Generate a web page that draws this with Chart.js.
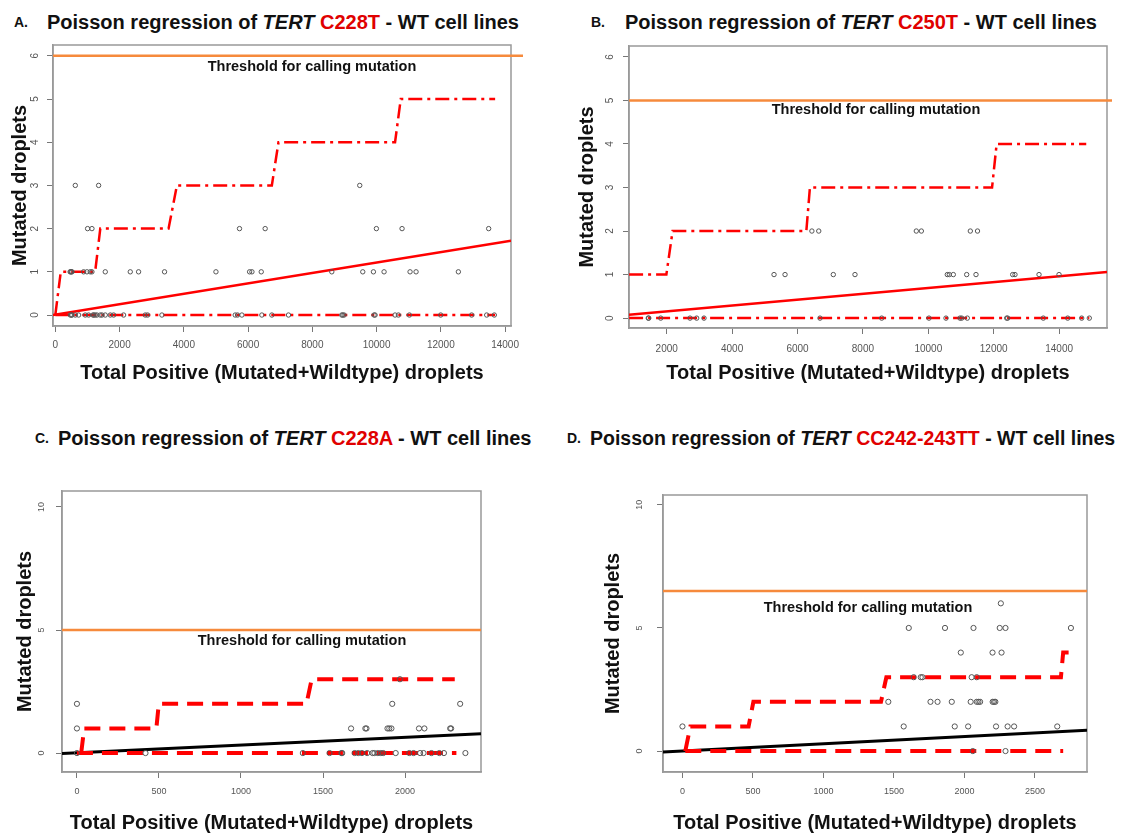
<!DOCTYPE html>
<html>
<head>
<meta charset="utf-8">
<script src="https://cdn.jsdelivr.net/npm/chart.js@4.4.1/dist/chart.umd.min.js"></script>
<style>
body { margin:0; background:#fff; width:1128px; height:834px; overflow:hidden; position:relative; font-family:'Liberation Sans', Arial, sans-serif; }
.t { position:absolute; font-weight:bold; font-size:20px; line-height:24px; color:#111; white-space:nowrap; }
.red { color:#e00000; }
.tag { position:absolute; font-weight:bold; font-size:14px; line-height:16px; color:#111; }
.thr { position:absolute; font-weight:bold; font-size:14.5px; line-height:16px; color:#111; white-space:nowrap; transform:translate(-50%,-50%); }
canvas { position:absolute; }
</style>
</head>
<body>
<div class="tag" style="left:14px;top:14px">A.</div>
<div class="t" style="left:47px;top:10px">Poisson regression of <i>TERT</i> <span class="red">C228T</span> - WT cell lines</div>
<div class="tag" style="left:591px;top:14px">B.</div>
<div class="t" style="left:625px;top:10px">Poisson regression of <i>TERT</i> <span class="red">C250T</span> - WT cell lines</div>
<div class="tag" style="left:35px;top:430px">C.</div>
<div class="t" style="left:58px;top:426px">Poisson regression of <i>TERT</i> <span class="red">C228A</span> - WT cell lines</div>
<div class="tag" style="left:567px;top:430px">D.</div>
<div class="t" style="left:590px;top:426px;font-size:19.5px">Poisson regression of <i>TERT</i> <span class="red">CC242-243TT</span> - WT cell lines</div>

<canvas id="chartA" width="540" height="370" style="left:0;top:30px"></canvas>
<canvas id="chartB" width="568" height="370" style="left:560px;top:30px"></canvas>
<canvas id="chartC" width="560" height="364" style="left:0;top:470px"></canvas>
<canvas id="chartD" width="568" height="364" style="left:560px;top:470px"></canvas>

<div class="thr" style="left:312px;top:66px">Threshold for calling mutation</div>
<div class="thr" style="left:876px;top:109px">Threshold for calling mutation</div>
<div class="thr" style="left:302px;top:640px">Threshold for calling mutation</div>
<div class="thr" style="left:868px;top:607px">Threshold for calling mutation</div>

<script>
'use strict';
// A - C228T
let aX = [622, 1348, 9476,
  1005, 1140, 5733, 6532, 9994, 10793, 13489,
  460, 480, 500, 520, 881, 985, 1088, 1140, 1555, 2333, 2592, 3400, 5000, 6047, 6120, 6410, 8606, 9570, 9902, 10233, 11042, 11229, 12546,
  467, 500, 518, 622, 726, 933, 1037, 1172, 1200, 1244, 1296, 1400, 1452, 1555, 1711, 1815, 2126, 2800, 2872, 3318, 5599, 5672, 5807, 6429, 6740, 7258, 8917, 8948, 8990, 9922, 9953, 10575, 10679, 11021, 11996, 12960, 13427, 13665];
let aY = [3, 3, 3,
  2, 2, 2, 2, 2, 2, 2,
  1, 1, 1, 1, 1, 1, 1, 1, 1, 1, 1, 1, 1, 1, 1, 1, 1, 1, 1, 1, 1, 1, 1,
  0, 0, 0, 0, 0, 0, 0, 0, 0, 0, 0, 0, 0, 0, 0, 0, 0, 0, 0, 0, 0, 0, 0, 0, 0, 0, 0, 0, 0, 0, 0, 0, 0, 0, 0, 0, 0, 0];
let aUpX = [0, 170, 1240, 1400, 3525, 3785, 6740, 6947, 10575, 10753, 13690];
let aUpY = [0, 1, 1, 2, 2, 3, 3, 4, 4, 5, 5];
let aLoX = [0, 13690];
let aLoY = [0, 0];
let aFitX = [-72, 14184];
let aFitY = [0, 1.72];
let aCutX = [-72, 16000];
let aCut = 6;
let aTicksX = [0, 2000, 4000, 6000, 8000, 10000, 12000, 14000];
let aTicksY = [0, 1, 2, 3, 4, 5, 6];

// B - C250T
let bX = [6440, 6650, 9633, 9788, 11285, 11505,
  5282, 5619, 7095, 7758, 10581, 10642, 10765, 11174, 11459, 12581, 12651, 13386, 13998,
  1437, 1450, 1817, 2713, 2917, 3141, 6688, 8575, 10021, 10541, 10969, 11021, 11193, 12398, 12428, 13517, 14263, 14691, 14924];
let bY = [2, 2, 2, 2, 2, 2,
  1, 1, 1, 1, 1, 1, 1, 1, 1, 1, 1, 1, 1,
  0, 0, 0, 0, 0, 0, 0, 0, 0, 0, 0, 0, 0, 0, 0, 0, 0, 0, 0];
let bUpX = [850, 1990, 2180, 6270, 6380, 11950, 12090, 14830];
let bUpY = [1, 1, 2, 2, 3, 3, 4, 4];
let bLoX = [850, 14924];
let bLoY = [0, 0];
let bFitX = [847, 15465];
let bFitY = [0.08, 1.06];
let bCutX = [847, 17000];
let bCut = 5;
let bTicksX = [2000, 4000, 6000, 8000, 10000, 12000, 14000];
let bTicksY = [0, 1, 2, 3, 4, 5, 6];

// C - C228A
let cX = [1969,
  0, 1922, 2336,
  0, 1671, 1758, 1765, 1893, 1904, 1917, 2085, 2118, 2275, 2281,
  0, 418, 1377, 1540, 1612, 1617, 1693, 1715, 1737, 1769, 1802, 1813, 1834, 1852, 1867, 1943, 2026, 2052, 2092, 2113, 2161, 2209, 2237, 2368];
let cY = [3,
  2, 2, 2,
  1, 1, 1, 1, 1, 1, 1, 1, 1, 1, 1,
  0, 0, 0, 0, 0, 0, 0, 0, 0, 0, 0, 0, 0, 0, 0, 0, 0, 0, 0, 0, 0, 0, 0, 0];
let cUpX = [26, 44, 484, 499, 1399, 1431, 2303];
let cUpY = [0, 1, 1, 2, 2, 3, 3];
let cLoX = [0, 2313];
let cLoY = [0, 0];
let cFitX = [-91, 2463];
let cFitY = [-0.02, 0.78];
let cCutX = [-91, 2463];
let cCut = 5;
let cTicksX = [0, 500, 1000, 1500, 2000];
let cTicksY = [0, 5, 10];

// D - CC242-243TT
let dX = [2258,
  1605, 1862, 2064, 2250, 2291, 2755,
  1974, 2199, 2263,
  1640, 1690, 1702, 2051, 2087,
  1460, 1759, 1809, 1910, 2044, 2087, 2099, 2111, 2200, 2210, 2219,
  0, 1569, 1931, 2026, 2224, 2306, 2352, 2658,
  2059, 2291];
let dY = [6,
  5, 5, 5, 5, 5, 5,
  4, 4, 4,
  3, 3, 3, 3, 3,
  2, 2, 2, 2, 2, 2, 2, 2, 2, 2, 2,
  1, 1, 1, 1, 1, 1, 1, 1,
  0, 0];
let dUpX = [20, 56, 469, 503, 1408, 1446, 2684, 2700, 2747];
let dUpY = [0, 1, 1, 2, 2, 3, 3, 4, 4];
let dLoX = [20, 2700];
let dLoY = [0, 0];
let dFitX = [-138, 2869];
let dFitY = [-0.04, 0.85];
let dCutX = [-138, 2869];
let dCut = 6.5;
let dTicksX = [0, 500, 1000, 1500, 2000, 2500];
let dTicksY = [0, 5, 10];

let fam = "'Liberation Sans', Arial, sans-serif";

function pts(xs, ys) {
  return xs.map((x, i) => ({ x: x, y: ys[i] }));
}

// R style full box round the plot area
let boxPlugin = {
  id: 'box',
  beforeDatasetsDraw(chart) {
    let a = chart.chartArea;
    let ctx = chart.ctx;
    ctx.save();
    ctx.strokeStyle = '#999';
    ctx.lineWidth = 1.5;
    ctx.strokeRect(a.left, a.top, a.right - a.left, a.bottom - a.top);
    ctx.restore();
  }
};

function makeChart(id, p) {
  let ctx = document.getElementById(id).getContext('2d');
  return new Chart(ctx, {
    type: 'scatter',
    data: {
      datasets: [
        { data: pts(p.x, p.y), pointStyle: 'circle', pointRadius: p.r, borderColor: '#555', backgroundColor: 'rgba(0,0,0,0)', borderWidth: 1, order: 0 },
        { data: pts(p.upX, p.upY), showLine: true, pointRadius: 0, borderColor: '#ff0000', borderWidth: p.bandW, borderDash: p.dash, order: 1 },
        { data: pts(p.loX, p.loY), showLine: true, pointRadius: 0, borderColor: '#ff0000', borderWidth: p.bandW, borderDash: p.dash, order: 1 },
        { data: pts(p.fitX, p.fitY), showLine: true, pointRadius: 0, borderColor: p.fitColor, borderWidth: p.fitW, order: 1 },
        { data: pts(p.cutX, [p.cut, p.cut]), showLine: true, pointRadius: 0, borderColor: '#f68a3c', borderWidth: 2.5, order: 2,
          clip: { left: 0, top: 0, right: p.over, bottom: 0 } }
      ]
    },
    options: {
      responsive: false,
      animation: false,
      devicePixelRatio: 1,
      events: [],
      layout: { padding: p.pad },
      plugins: { legend: { display: false }, tooltip: { enabled: false } },
      scales: {
        x: {
          type: 'linear', min: p.xMin, max: p.xMax,
          afterBuildTicks: s => { s.ticks = p.ticksX.map(v => ({ value: v })); },
          afterFit: s => { s.height = p.xH; },
          ticks: { callback: v => String(v), font: { size: p.tick, family: fam }, color: '#555', padding: p.xTickPad, maxRotation: 0, autoSkip: false },
          grid: { drawOnChartArea: false, tickLength: 6, color: '#777' },
          border: { color: '#999', width: 1.5 },
          title: { display: true, text: 'Total Positive (Mutated+Wildtype) droplets', color: '#111',
            font: { size: 20, weight: 'bold', family: fam, lineHeight: 1 }, padding: { top: 0, bottom: p.xTitlePad } }
        },
        y: {
          type: 'linear', min: p.yMin, max: p.yMax,
          afterBuildTicks: s => { s.ticks = p.ticksY.map(v => ({ value: v })); },
          afterFit: s => { s.width = p.yW; },
          ticks: { callback: v => String(v), font: { size: p.tick, family: fam }, color: '#555', padding: p.yTickPad, minRotation: 90, maxRotation: 90, crossAlign: 'center', autoSkip: false },
          grid: { drawOnChartArea: false, tickLength: 6, color: '#777' },
          border: { color: '#999', width: 1.5 },
          title: { display: true, text: 'Mutated droplets', color: '#111',
            font: { size: 20, weight: 'bold', family: fam, lineHeight: 1 }, padding: { top: p.yTitlePad, bottom: 0 } }
        }
      }
    },
    plugins: [boxPlugin]
  });
}

makeChart('chartA', {
  x: aX, y: aY, upX: aUpX, upY: aUpY, loX: aLoX, loY: aLoY, fitX: aFitX, fitY: aFitY, cutX: aCutX, cut: aCut,
  ticksX: aTicksX, ticksY: aTicksY, xMin: -72, xMax: 14184, yMin: -0.254, yMax: 6.25,
  r: 2.2, bandW: 2.5, dash: [14, 5, 3, 5], fitColor: '#ff0000', fitW: 2.5, over: 12, tick: 10,
  pad: { left: 0, top: 14, right: 29, bottom: 0 }, yW: 53, xH: 74, xTickPad: 7, yTickPad: 9, xTitlePad: 17, yTitlePad: 10
});
makeChart('chartB', {
  x: bX, y: bY, upX: bUpX, upY: bUpY, loX: bLoX, loY: bLoY, fitX: bFitX, fitY: bFitY, cutX: bCutX, cut: bCut,
  ticksX: bTicksX, ticksY: bTicksY, xMin: 847, xMax: 15465, yMin: -0.227, yMax: 6.25,
  r: 2.2, bandW: 2.5, dash: [14, 5, 3, 5], fitColor: '#ff0000', fitW: 2.5, over: 5, tick: 10,
  pad: { left: 0, top: 13, right: 21, bottom: 0 }, yW: 69, xH: 72, xTickPad: 9, yTickPad: 10, xTitlePad: 17, yTitlePad: 17
});
makeChart('chartC', {
  x: cX, y: cY, upX: cUpX, upY: cUpY, loX: cLoX, loY: cLoY, fitX: cFitX, fitY: cFitY, cutX: cCutX, cut: cCut,
  ticksX: cTicksX, ticksY: cTicksY, xMin: -91, xMax: 2463, yMin: -0.77, yMax: 10.65,
  r: 2.6, bandW: 4, dash: [16, 9], fitColor: '#000', fitW: 3, over: 0, tick: 9,
  pad: { left: 0, top: 21, right: 79, bottom: 0 }, yW: 62, xH: 62, xTickPad: 8, yTickPad: 9, xTitlePad: 1, yTitlePad: 15
});
makeChart('chartD', {
  x: dX, y: dY, upX: dUpX, upY: dUpY, loX: dLoX, loY: dLoY, fitX: dFitX, fitY: dFitY, cutX: dCutX, cut: dCut,
  ticksX: dTicksX, ticksY: dTicksY, xMin: -138, xMax: 2869, yMin: -0.85, yMax: 10.4,
  r: 2.6, bandW: 4, dash: [16, 9], fitColor: '#000', fitW: 3, over: 0, tick: 9,
  pad: { left: 0, top: 25, right: 41, bottom: 0 }, yW: 103, xH: 62, xTickPad: 8, yTickPad: 12, xTitlePad: 1, yTitlePad: 43
});
</script>
</body>
</html>
